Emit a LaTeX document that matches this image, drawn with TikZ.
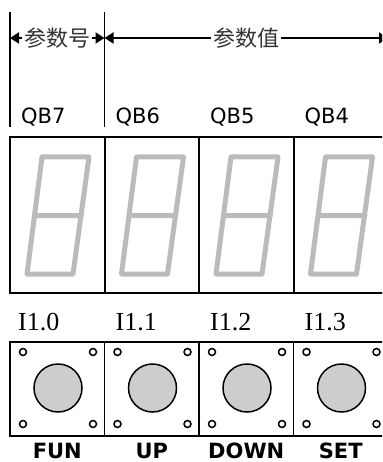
\documentclass[tikz,border=0pt]{standalone}
\usepackage{fontspec}
\setmainfont{DejaVu Sans}
\newfontfamily\cjk{Noto Sans CJK SC}
\newfontfamily\portserif{Liberation Serif}
\usetikzlibrary{calc,positioning,arrows.meta}
\definecolor{seg_gray}{RGB}{187,187,187}
\definecolor{knob_gray}{RGB}{205,205,205}
\tikzset{
digit_cell/.style={rectangle, draw, line width=2pt, outer sep=0, inner sep=0, minimum width=94.5pt, minimum height=156pt},
key_cell/.style={rectangle, draw, line width=1.8pt, outer sep=0, inner sep=0, minimum width=94.5pt, minimum height=94pt},
port_label/.style={anchor=base west, inner sep=0, font=\fontsize{21}{21}\selectfont},
input_label/.style={anchor=base west, inner sep=0, font=\portserif\fontsize{26}{26}\selectfont},
key_name/.style={anchor=base, inner sep=0, font=\bfseries\fontsize{21}{21}\selectfont},
tick_line/.style={line width=1.8pt},
span_arrow/.style={{Triangle[length=9pt,width=11pt]}-{Triangle[length=9pt,width=11pt]}, line width=1.8pt},
span_label/.style={midway, fill=white, inner sep=2pt, text=black!80, font=\cjk\fontsize{22}{22}\selectfont},
digit/.pic={
    \draw[seg_gray, line width=5pt, line join=round, line cap=round]
        (32,20) -- (79,20) -- (63,137) -- (17,137) -- cycle
        (24.5,78.5) -- (71.5,78.5);
},
key_face/.pic={
    \draw[line width=1.5pt, fill=knob_gray] (48,46) circle (24);
    \draw[line width=1.5pt] (13,10) circle (3.5) (83,10) circle (3.5) (13,82) circle (3.5) (83,82) circle (3.5);
}
}

\begin{document}
\begin{tikzpicture}[x=1pt, y=-1pt]
    \clip (0,0) rectangle (382,462);
    % dimension marks
    \coordinate (tick_a_top) at (10,12);
    \coordinate (tick_a_bot) at (10,127);
    \coordinate (tick_b_top) at (104.5,12);
    \coordinate (tick_b_bot) at (104.5,127);
    \coordinate (span_a) at (10,38);
    \coordinate (span_b) at (104.5,38);
    \coordinate (span_c) at (388,38);
    \draw[tick_line] (tick_a_top) -- (tick_a_bot);
    \draw[tick_line] (tick_b_top) -- (tick_b_bot);
    \draw[span_arrow] (span_a) -- node[span_label] {参数号} (span_b);
    \draw[span_arrow] (span_b) -- node[span_label] {参数值} (span_c);

    % display digits
    \node[digit_cell] (digit_7) at (57.25,215) {};
    \node[digit_cell] (digit_6) [right=0 of digit_7] {};
    \node[digit_cell] (digit_5) [right=0 of digit_6] {};
    \node[digit_cell] (digit_4) [right=0 of digit_5] {};
    \pic at (digit_7.north west) {digit};
    \pic at (digit_6.north west) {digit};
    \pic at (digit_5.north west) {digit};
    \pic at (digit_4.north west) {digit};
    \node[port_label] (qb_7) at ($(digit_7.north west)+(11,-13)$) {QB7};
    \node[port_label] (qb_6) at ($(digit_6.north west)+(11,-13)$) {QB6};
    \node[port_label] (qb_5) at ($(digit_5.north west)+(11,-13)$) {QB5};
    \node[port_label] (qb_4) at ($(digit_4.north west)+(11,-13)$) {QB4};

    % keys
    \node[key_cell] (key_fun) at (57.25,389) {};
    \node[key_cell] (key_up) [right=0 of key_fun] {};
    \node[key_cell] (key_down) [right=0 of key_up] {};
    \node[key_cell] (key_set) [right=0 of key_down] {};
    \pic at (key_fun.north west) {key_face};
    \pic at (key_up.north west) {key_face};
    \pic at (key_down.north west) {key_face};
    \pic at (key_set.north west) {key_face};
    \node[input_label] (in_10) at ($(key_fun.north west)+(8,-12)$) {I1.0};
    \node[input_label] (in_11) at ($(key_up.north west)+(11,-12)$) {I1.1};
    \node[input_label] (in_12) at ($(key_down.north west)+(11,-12)$) {I1.2};
    \node[input_label] (in_13) at ($(key_set.north west)+(11,-12)$) {I1.3};
    \node[key_name] (name_fun) at ($(key_fun.south)+(0,22)$) {FUN};
    \node[key_name] (name_up) at ($(key_up.south)+(0,22)$) {UP};
    \node[key_name] (name_down) at ($(key_down.south)+(0,22)$) {DOWN};
    \node[key_name] (name_set) at ($(key_set.south)+(0,22)$) {SET};
\end{tikzpicture}
\end{document}
